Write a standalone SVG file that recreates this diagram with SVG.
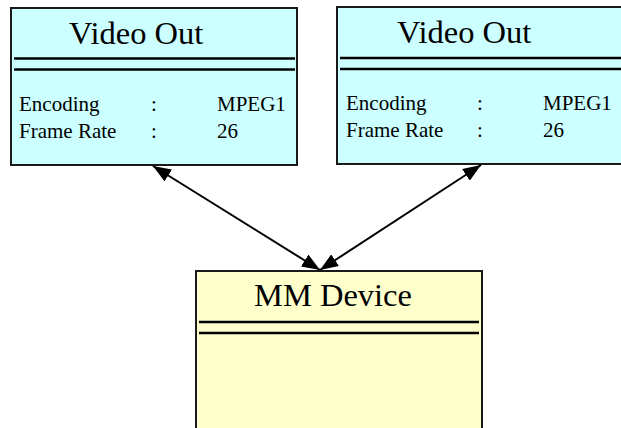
<svg xmlns="http://www.w3.org/2000/svg" width="621" height="428" viewBox="0 0 621 428">
<style>
.box{stroke:#1a1a1a;stroke-width:2}
.cyan{fill:#ccffff}
.yel{fill:#ffffcc}
.sep{stroke:#000;stroke-width:2.5}
.title{font-family:"Liberation Serif",serif;font-size:32.5px;fill:#000}
.attr{font-family:"Liberation Serif",serif;font-size:21px;fill:#000}
.conn{stroke:#000;stroke-width:2;fill:none}
</style>
<defs>
<marker id="ah" viewBox="0 0 18 14" refX="18" refY="7" markerWidth="18" markerHeight="14" markerUnits="userSpaceOnUse" orient="auto-start-reverse">
<path d="M0,0 L18,7 L0,14 Z" fill="#000"/>
</marker>
</defs>
<rect width="621" height="428" fill="#fff"/>
<g id="videoOut1">
<rect class="box cyan" x="11" y="8" width="286" height="157"/>
<text class="title" x="69" y="44">Video Out</text>
<line class="sep" x1="14" y1="58.5" x2="295" y2="58.5"/>
<line class="sep" x1="14" y1="69.5" x2="295" y2="69.5"/>
<text class="attr" x="19" y="111">Encoding</text>
<text class="attr" x="151" y="111">:</text>
<text class="attr" x="217" y="111">MPEG1</text>
<text class="attr" x="19" y="138">Frame Rate</text>
<text class="attr" x="151" y="138">:</text>
<text class="attr" x="217" y="138">26</text>
</g>
<g id="videoOut2">
<rect class="box cyan" x="337" y="7" width="300" height="157"/>
<text class="title" x="397" y="43">Video Out</text>
<line class="sep" x1="340" y1="58" x2="625" y2="58"/>
<line class="sep" x1="340" y1="69" x2="625" y2="69"/>
<text class="attr" x="346" y="110">Encoding</text>
<text class="attr" x="477" y="110">:</text>
<text class="attr" x="543" y="110">MPEG1</text>
<text class="attr" x="346" y="137">Frame Rate</text>
<text class="attr" x="477" y="137">:</text>
<text class="attr" x="543" y="137">26</text>
</g>
<g id="mmDevice">
<rect class="box yel" x="196" y="271" width="286" height="200"/>
<text class="title" x="254" y="306">MM Device</text>
<line class="sep" x1="199" y1="322" x2="479" y2="322"/>
<line class="sep" x1="199" y1="333" x2="479" y2="333"/>
</g>
<g id="connectors">
<line class="conn" x1="153" y1="166" x2="320" y2="270" marker-start="url(#ah)" marker-end="url(#ah)"/>
<line class="conn" x1="481" y1="165" x2="320" y2="270" marker-start="url(#ah)" marker-end="url(#ah)"/>
</g>
</svg>
